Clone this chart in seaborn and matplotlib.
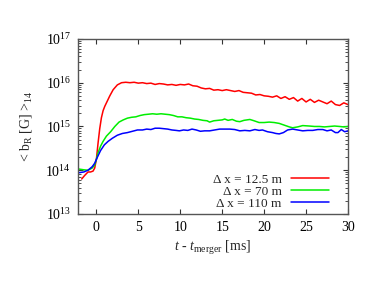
import numpy as np
import pandas as pd
import matplotlib
matplotlib.use("Agg")
import matplotlib.pyplot as plt
from matplotlib import font_manager as fm
import seaborn as sns
from matplotlib.ticker import LogLocator, MultipleLocator

# ---- data (log10 of <b_R>_14 in Gauss) ----
t_red = [-1.75, -1.4, -1.0, -0.7, -0.4, -0.2, 0.0, 0.2, 0.4, 0.6, 0.8, 1.0, 1.3, 1.6, 2.0, 2.5,
         3.0, 3.5, 4.0, 4.5, 5.0, 5.5, 6.0, 6.5, 7.0, 7.5, 8.0, 8.5, 9.0, 9.5, 10.0, 10.5, 11.0,
         11.5, 12.0, 12.5, 13.0, 13.5, 14.0, 14.5, 15.0, 15.5, 16.0, 16.5, 17.0, 17.5, 18.0, 18.5,
         19.0, 19.5, 20.0, 20.5, 21.0, 21.5, 22.0, 22.5, 23.0, 23.5, 24.0, 24.5, 25.0, 25.5, 26.0,
         26.5, 27.0, 27.5, 28.0, 28.5, 29.0, 29.5, 30.0]
log_red = [13.80, 13.88, 13.96, 13.96, 13.98, 14.05, 14.25, 14.62, 14.95, 15.20, 15.36, 15.46,
           15.58, 15.70, 15.84, 15.95, 16.00, 16.01, 16.00, 16.01, 15.99, 16.00, 15.98, 15.99,
           15.96, 15.98, 15.97, 15.95, 15.96, 15.94, 15.96, 15.95, 15.97, 15.93, 15.92, 15.88,
           15.86, 15.87, 15.83, 15.84, 15.82, 15.84, 15.82, 15.80, 15.82, 15.78, 15.77, 15.76,
           15.72, 15.73, 15.70, 15.69, 15.67, 15.70, 15.64, 15.68, 15.62, 15.66, 15.58, 15.64,
           15.56, 15.62, 15.55, 15.60, 15.56, 15.52, 15.58, 15.50, 15.48, 15.54, 15.50]

t_green = [-2.2, -1.5, -1.0, -0.5, -0.2, 0.0, 0.2, 0.5, 0.8, 1.2, 1.7, 2.2, 2.7, 3.2, 3.7, 4.2,
           4.7, 5.2, 5.7, 6.2, 6.7, 7.2, 7.7, 8.2, 8.7, 9.2, 9.7, 10.2, 10.7, 11.2, 11.7, 12.2,
           12.7, 13.2, 13.5, 14.0, 14.5, 15.0, 15.3, 15.7, 16.2, 16.7, 17.1, 17.6, 18.3, 18.8,
           19.4, 20.0, 20.6, 21.2, 21.8, 22.4, 23.0, 23.4, 24.0, 24.6, 25.4, 26.0, 26.6, 27.2,
           27.8, 28.4, 29.0, 29.5, 30.0]
log_green = [14.03, 14.01, 14.00, 14.05, 14.12, 14.25, 14.40, 14.55, 14.66, 14.78, 14.88, 15.00,
             15.10, 15.15, 15.19, 15.21, 15.22, 15.25, 15.27, 15.28, 15.29, 15.28, 15.29, 15.28,
             15.27, 15.25, 15.22, 15.22, 15.20, 15.19, 15.17, 15.16, 15.14, 15.13, 15.10, 15.13,
             15.14, 15.15, 15.17, 15.14, 15.16, 15.12, 15.11, 15.14, 15.16, 15.13, 15.09, 15.09,
             15.10, 15.09, 15.07, 15.03, 14.99, 14.97, 14.99, 15.02, 15.01, 15.00, 15.00, 14.99,
             15.00, 15.01, 15.00, 14.99, 15.00]

t_blue = [-2.2, -1.5, -1.0, -0.5, -0.2, 0.15, 0.5, 0.95, 1.4, 1.9, 2.5, 3.1, 3.7, 4.3, 4.9, 5.5,
          6.0, 6.5, 7.0, 7.5, 8.0, 8.5, 9.0, 9.5, 9.9, 10.4, 10.9, 11.4, 11.9, 12.4, 12.9, 13.5,
          14.1, 14.7, 15.3, 15.9, 16.5, 17.1, 17.7, 18.3, 18.9, 19.4, 19.8, 20.4, 21.0, 21.4,
          21.8, 22.3, 22.8, 23.4, 24.0, 24.6, 25.2, 25.8, 26.4, 27.0, 27.5, 28.0, 28.5, 28.8,
          29.2, 29.6, 30.0]
log_blue = [13.94, 13.96, 14.00, 14.08, 14.16, 14.31, 14.45, 14.58, 14.66, 14.73, 14.80, 14.84,
            14.86, 14.89, 14.92, 14.92, 14.94, 14.93, 14.96, 14.96, 14.95, 14.94, 14.92, 14.91,
            14.90, 14.92, 14.91, 14.94, 14.92, 14.89, 14.90, 14.90, 14.92, 14.94, 14.94, 14.94,
            14.93, 14.90, 14.91, 14.90, 14.93, 14.91, 14.92, 14.88, 14.86, 14.84, 14.83, 14.86,
            14.92, 14.94, 14.92, 14.90, 14.91, 14.91, 14.93, 14.93, 14.90, 14.92, 14.86, 14.86,
            14.93, 14.88, 14.90]

labels = ["\u0394 x = 12.5 m", "\u0394 x = 70 m", "\u0394 x = 110 m"]
colors = ["#ff0000", "#00ee00", "#0000ff"]

frames = []
for t, lg, lab in zip([t_red, t_green, t_blue], [log_red, log_green, log_blue], labels):
    frames.append(pd.DataFrame({"t": t, "b": 10.0 ** np.array(lg), "run": lab}))
df = pd.concat(frames, ignore_index=True)

# pick a Times-like serif font
names = {f.name for f in fm.fontManager.ttflist}
serif = "DejaVu Serif"
for cand in ["Liberation Serif", "Times New Roman", "Nimbus Roman", "TeX Gyre Termes"]:
    if cand in names:
        serif = cand
        break

sns.set_theme(style="ticks")
plt.rcParams["font.family"] = [serif, "DejaVu Serif"]
plt.rcParams["mathtext.fontset"] = "custom"
plt.rcParams["mathtext.rm"] = serif
plt.rcParams["mathtext.it"] = serif + ":italic"
plt.rcParams["mathtext.default"] = "rm"

fig = plt.figure(figsize=(3.82, 2.95), dpi=100)
ax = fig.add_axes([0.204, 0.2746, 0.707, 0.5934])

sns.lineplot(data=df, x="t", y="b", hue="run", hue_order=labels, palette=colors,
             linewidth=1.1, ax=ax, estimator=None, sort=False)

ax.set_yscale("log")
ax.set_xlim(-2.2, 30)
ax.set_ylim(1e13, 1e17)
ax.xaxis.set_major_locator(MultipleLocator(5))
ax.yaxis.set_major_locator(LogLocator(base=10, numticks=10))
ax.yaxis.set_minor_locator(LogLocator(base=10, subs=np.arange(2, 10), numticks=20))

for sp in ax.spines.values():
    sp.set_color("#555555")
    sp.set_linewidth(1.0)
ax.tick_params(which="both", direction="in", top=True, right=True, colors="#333333",
               labelcolor="black", labelsize=10)
ax.tick_params(which="major", length=3.5, width=0.8, pad=5)
ax.tick_params(which="minor", length=2, width=0.6)

ax.set_xlabel(r"$\it{t}$ - $\it{t}_{\rm merger}$ [ms]", fontsize=10, labelpad=4)
ax.set_ylabel(r"< b$_{\rm R}$ [G] >$_{14}$", fontsize=10, labelpad=8)

leg = ax.legend(loc="lower right", frameon=False, markerfirst=False, fontsize=9.5,
                handlelength=2.9, handletextpad=0.7, labelspacing=0.0,
                borderpad=0.0, borderaxespad=0.3, bbox_to_anchor=(0.945, 0.0))

fig.savefig("out.png", dpi=100)
